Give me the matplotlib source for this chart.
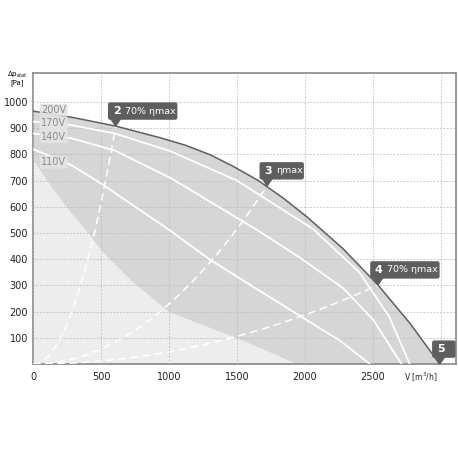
import numpy as np
import matplotlib.pyplot as plt
from matplotlib.patches import FancyBboxPatch, Polygon

# outer curve (200V)
v_max = [0, 300, 608, 938, 1120, 1305, 1480, 1657, 1840, 2016, 2280, 2536, 2771, 2991]
p_max = [965, 940, 908, 863, 835, 798, 752, 700, 633, 561, 440, 302, 156, 0]

# lower boundary of the working area
v_min = [0, 130, 260, 390, 500, 720, 1000, 1500, 1950]
p_min = [780, 680, 590, 511, 435, 320, 200, 100, 0]

# speed curves
v_170 = [0, 279, 600, 1012, 1500, 2060, 2400, 2620, 2770]
p_170 = [925, 912, 880, 812, 700, 515, 350, 180, 0]
v_140 = [0, 279, 600, 1012, 1650, 1965, 2280, 2500, 2710]
p_140 = [880, 862, 815, 710, 511, 405, 290, 170, 0]
v_110 = [0, 279, 498, 1012, 1305, 1650, 1975, 2250, 2478]
p_110 = [820, 760, 690, 508, 397, 285, 180, 92, 0]

# system curves through the marked points
sys_pts = [(608, 908), (1722, 680), (2536, 302)]

markers = [("2", "70% ηmax", 608, 908), ("3", "ηmax", 1722, 680),
           ("4", "70% ηmax", 2536, 302), ("5", "", 2991, 0)]
volt_labels = [("200V", 968), ("170V", 918), ("140V", 868), ("110V", 770)]

fig = plt.figure(figsize=(4.58, 4.58), dpi=100)
ax = fig.add_axes([0.072, 0.205, 0.9236, 0.6354])
ax.set_xlim(0, 3110)
ax.set_ylim(0, 1110)

xs = np.linspace(0, 2991, 400)
ytop = np.interp(xs, v_max, p_max)
ybot = np.interp(xs, v_min, p_min, right=0)
ax.fill_between(xs, 0, ytop, color="#d6d6d6", lw=0, zorder=1)
ax.fill_between(xs, 0, np.minimum(ybot, ytop), color="#ededed", lw=0, zorder=1)

for v, p in [(v_170, p_170), (v_140, p_140), (v_110, p_110)]:
    ax.plot(v, p, color="white", lw=1.3, zorder=3, solid_joinstyle="round")

for vx, py in sys_pts:
    k = py / vx ** 2
    vv = np.linspace(0, vx, 100)
    ax.plot(vv, k * vv ** 2, color="white", lw=1.1, ls=(0, (5, 3)), zorder=3)

ax.plot(v_max, p_max, color="#5f5f5f", lw=1.1, zorder=4)

ax.set_xticks([0, 500, 1000, 1500, 2000, 2500, 3000])
ax.set_xticklabels(["0", "500", "1000", "1500", "2000", "2500", ""])
ax.set_yticks(range(100, 1100, 100))
ax.tick_params(length=0, labelsize=7, colors="#222222")
ax.tick_params(axis="y", pad=3.5)
ax.tick_params(axis="x", pad=6)
ax.grid(True, color="#bbbbbb", ls=(0, (2, 2)), lw=0.6, zorder=2)
ax.set_axisbelow(False)
for s in ax.spines.values():
    s.set_color("#888888")
    s.set_linewidth(1.2)

ax.text(2851, -50, "V [m$^3$/h]", fontsize=5.5, ha="center", va="center",
        color="#222222")
fig.text(0.038, 0.83, "Δp$_{stat}$\n[Pa]", fontsize=5, ha="center",
         va="center", linespacing=0.9)

# marker boxes
for num, txt, vx, py in markers:
    tr = ax.transData.transform((vx, py))
    bx, by = tr[0] - 7, tr[1] + 7
    w = 68 if txt == "70% ηmax" else (43 if txt else 22)
    box = FancyBboxPatch((bx, by), w, 16, boxstyle="round,pad=0,rounding_size=1.5",
                         transform=None, color="#5e5e5e", zorder=6, clip_on=False)
    fig.patches.append(box)
    tri = Polygon([(tr[0] - 5, by + 0.5), (tr[0] + 5, by + 0.5), tr], closed=True,
                  transform=None, color="#5e5e5e", zorder=6)
    fig.patches.append(tri)
    fig.text((bx + 8) / 458, (by + 8) / 458, num, fontsize=8, fontweight="bold",
             color="white", ha="center", va="center", zorder=8)
    if txt:
        fig.text((bx + 16) / 458, (by + 8) / 458, txt, fontsize=6.8,
                 color="white", ha="left", va="center", zorder=8)

# voltage labels
for lab, py in volt_labels:
    ax.text(60, py, lab, fontsize=7, color="#8c8c8c", ha="left", va="center",
            zorder=7, bbox=dict(boxstyle="round,pad=0.15", fc="#e4e4e4",
                                ec="none", alpha=0.9))

fig.savefig("out.png", dpi=100)
